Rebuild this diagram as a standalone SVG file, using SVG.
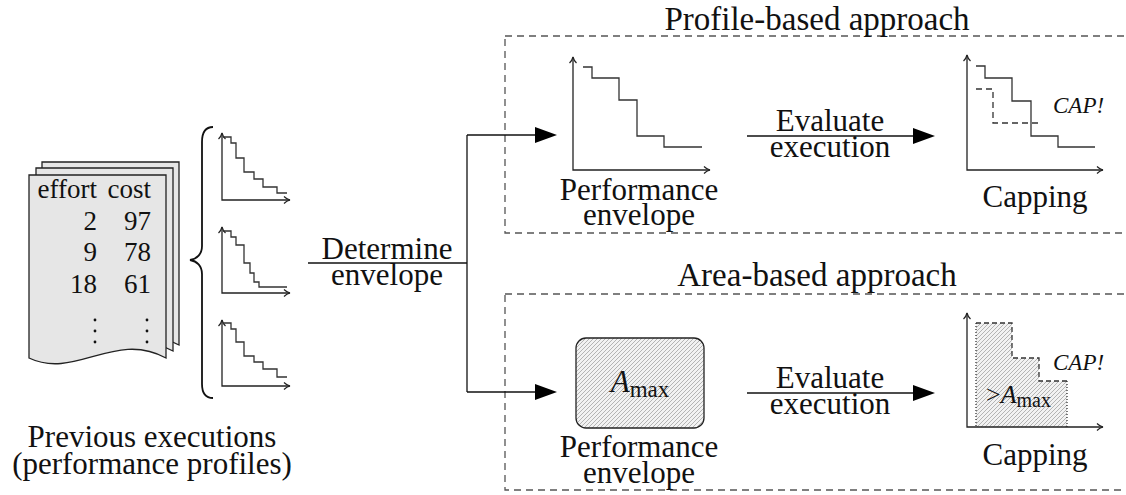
<svg xmlns="http://www.w3.org/2000/svg" width="1126" height="495" viewBox="0 0 1126 495">
<defs>
<style>
text{fill:#111}
.m{font-size:31px;text-anchor:middle}
.ttl{font-size:33px;text-anchor:middle}
.tab{font-size:27px;text-anchor:end}
.cap{font-size:23px;font-style:italic}
.page{fill:#e6e6e6;stroke:#222;stroke-width:1.3}
.ax{fill:none;stroke:#222;stroke-width:1.3;marker-start:url(#axh);marker-end:url(#axh)}
.st{fill:none;stroke:#333;stroke-width:1.3}
.dbox{fill:none;stroke:#555;stroke-width:1.3;stroke-dasharray:7 5}
.con{fill:none;stroke:#111;stroke-width:1.3}
.arr{marker-end:url(#big)}
</style>
<pattern id="hatch" patternUnits="userSpaceOnUse" width="4" height="4">
<rect width="4" height="4" fill="#f2f2f2"/>
<path d="M-1,1 L1,-1 M0,4 L4,0 M3,5 L5,3" stroke="#9a9a9a" stroke-width="0.7"/>
</pattern>
<marker id="axh" markerUnits="userSpaceOnUse" viewBox="-7 -5 8 10" refX="0" refY="0" markerWidth="8" markerHeight="10" orient="auto-start-reverse">
<path d="M-6,-3.5 C-4,-1.5 -2,-0.5 0,0 C-2,0.5 -4,1.5 -6,3.5" fill="none" stroke="#222" stroke-width="1.2"/>
</marker>
<marker id="big" markerUnits="userSpaceOnUse" viewBox="0 -8 22 16" refX="0" refY="0" markerWidth="22" markerHeight="16" orient="auto">
<path d="M0,-8 L22,0 L0,8 Z" fill="#000"/>
</marker>
</defs>
<rect width="1126" height="495" fill="#fff"/>
<g font-family="Liberation Serif, serif">
<g id="previous-executions">
<path class="page" d="M42,162 H179 V345 C128,317 88,367 42,345 Z"/>
<path class="page" d="M36,168 H173 V351 C122,323 82,373 36,351 Z"/>
<path class="page" d="M29,175 H166 V358 C115,330 75,380 29,358 Z"/>
<text class="tab" x="97" y="198">effort</text>
<text class="tab" x="151" y="198">cost</text>
<text class="tab" x="97" y="230">2</text>
<text class="tab" x="151" y="230">97</text>
<text class="tab" x="97" y="261">9</text>
<text class="tab" x="151" y="261">78</text>
<text class="tab" x="97" y="293">18</text>
<text class="tab" x="151" y="293">61</text>
<g fill="#111">
<circle cx="95" cy="320" r="1.4"/><circle cx="95" cy="331" r="1.4"/><circle cx="95" cy="342" r="1.4"/>
<circle cx="147" cy="320" r="1.4"/><circle cx="147" cy="331" r="1.4"/><circle cx="147" cy="342" r="1.4"/>
</g>
<text class="m" x="152" y="447">Previous executions</text>
<text class="m" x="152" y="474">(performance profiles)</text>
</g>

<g id="brace">
<path d="M213,127 C206,127 202,132 202,142 L202,246 C202,254 197,259 190,260 C197,261 202,266 202,274 L202,384 C202,393 206,398 213,398" fill="none" stroke="#111" stroke-width="1.8"/>
</g>

<g id="profile-1">
<path class="ax" d="M222,133 L222,200 L290,200"/>
<path class="st" d="M223,137 H231 V143 H236 V158 H244 V172 H254 V179 H263 V187 H277 V193 H287"/>
</g>
<g id="profile-2">
<path class="ax" d="M222,227 L222,293 L290,293"/>
<path class="st" d="M223,231 H231 V237 H236 V245 H244 V263 H250 V273 H254 V282 H259 V287 H287"/>
</g>
<g id="profile-3">
<path class="ax" d="M222,320 L222,386 L290,386"/>
<path class="st" d="M223,323 H231 V329 H236 V342 H244 V356 H254 V362 H263 V369 H277 V377 H287"/>
</g>

<g id="profile-based-box">
<rect class="dbox" x="505" y="36" width="630" height="197"/>
<text class="ttl" x="817" y="30">Profile-based approach</text>
</g>

<g id="envelope-top">
<path class="ax" d="M573,57 L573,170 L710,170"/>
<path class="st" d="M583,67 H592 V78 H619 V100 H637 V136 H664 V147 H702"/>
<text class="m" x="639" y="200">Performance</text>
<text class="m" x="639" y="225">envelope</text>
</g>

<g id="capping-top">
<path class="ax" d="M967,55 L967,170 L1103,170"/>
<path class="st" d="M976,66 H985 V78 H1012 V101 H1031 V136 H1058 V147 H1095"/>
<path class="st" stroke-dasharray="6 4" d="M976,89 H993 V123 H1040"/>
<text class="cap" x="1053" y="113">CAP!</text>
<text class="m" x="1035" y="207">Capping</text>
</g>

<g id="area-based-box">
<rect class="dbox" x="505" y="294" width="630" height="196"/>
<text class="ttl" x="817" y="286">Area-based approach</text>
</g>

<g id="envelope-bottom">
<rect x="576" y="338" width="128" height="90" rx="10" fill="url(#hatch)" stroke="#222" stroke-width="1.3"/>
<text x="640" y="392" text-anchor="middle"><tspan font-size="31" font-style="italic">A</tspan><tspan font-size="23" dy="5">max</tspan></text>
<text class="m" x="639" y="457">Performance</text>
<text class="m" x="639" y="483">envelope</text>
</g>

<g id="capping-bottom">
<polygon points="976,323 1012,323 1012,358 1039,358 1039,381 1067,381 1067,427 976,427" fill="url(#hatch)"/>
<path class="st" stroke-dasharray="5 3" d="M976,323 H1012 V358 H1039 V381 H1067"/>
<path class="st" stroke-width="1.1" stroke-dasharray="1 2" d="M976,323 V427 M1067,381 V427"/>
<path class="ax" d="M967,313 L967,427 L1103,427"/>
<text class="cap" x="1053" y="370">CAP!</text>
<text x="986" y="403" font-size="26">&gt;<tspan font-style="italic">A</tspan><tspan font-size="20" dy="4">max</tspan></text>
<text class="m" x="1035" y="465">Capping</text>
</g>

<g id="connectors">
<path class="con" d="M308,263 H467"/>
<path class="con" d="M467,135 V392"/>
<path class="con arr" d="M467,135 H535"/>
<path class="con arr" d="M467,392 H535"/>
<path class="con arr" d="M747,136 H913"/>
<path class="con arr" d="M747,393 H913"/>
<text class="m" x="387" y="259">Determine</text>
<text class="m" x="387" y="285">envelope</text>
<text class="m" x="830" y="131">Evaluate</text>
<text class="m" x="830" y="157">execution</text>
<text class="m" x="830" y="388">Evaluate</text>
<text class="m" x="830" y="414">execution</text>
</g>
</g>
</svg>
